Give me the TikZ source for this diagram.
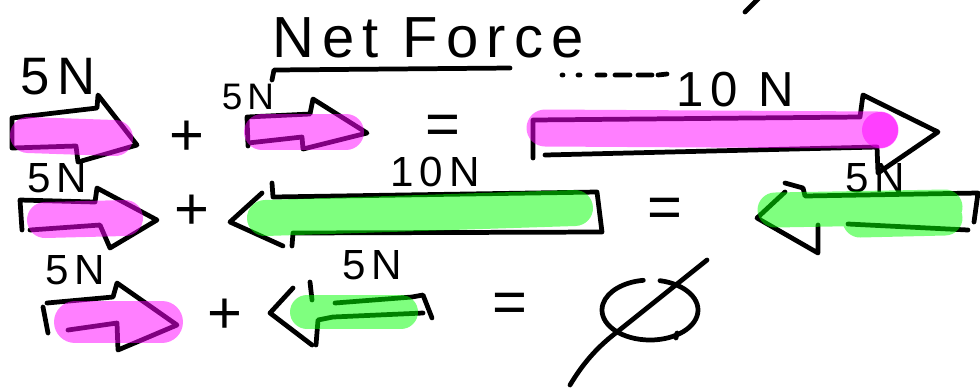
\documentclass[tikz,border=0pt]{standalone}
\usepackage{fontspec}
\setmainfont{Liberation Sans}
\newfontfamily\handfont[LetterSpace=14]{Liberation Sans}
\usetikzlibrary{positioning}
\definecolor{hlpink}{RGB}{255,0,255}
\definecolor{hlgreen}{RGB}{0,255,0}

\begin{document}
\begin{tikzpicture}[
  x=0.02cm, y=-0.02cm,
  ink/.style={draw=black, line width=2.7pt, line cap=round, line join=round},
  pinkmark/.style={draw=hlpink, opacity=0.5, line width=0.72cm, line cap=round},
  greenmark/.style={draw=hlgreen, opacity=0.5, line width=0.72cm, line cap=round},
  lbl/.style={inner sep=0pt, font=\handfont\fontsize{24}{24}\selectfont},
  biglbl/.style={lbl, font=\handfont\fontsize{30}{30}\selectfont},
  sign/.style={inner sep=0pt, font=\fontsize{34}{34}\selectfont}
]
\useasboundingbox (0,0) rectangle (980,387);

% title
\node[inner sep=0pt, font=\handfont\fontsize{33}{33}\selectfont] (title) at (428,38) {Net Force};
\draw[ink] (272,80) -- (274,70) -- (510,68);
\draw[ink] (562,75) -- (563,75) (578,75) -- (580,75) (597,75) -- (605,75)
           (615,75) -- (630,75) (638,75) -- (652,75) (658,75) -- (667,74);
\draw[ink] (745,12) -- (762,-5);

% row 1: 5N + 5N = 10N
\node[biglbl] (fa) at (58,77) {5N};
\draw[ink] (12,148) -- (12,118) -- (97,108) -- (98,95) -- (137,145) -- (78,162) -- (76,146) -- (12,148);
\node[sign] (plusa) at (187,138) {+};
\node[lbl, font=\handfont\fontsize{21}{21}\selectfont] (fb) at (248,97) {5N};
\draw[ink] (248,146) -- (247,117) -- (310,114) -- (313,99) -- (367,133) -- (303,149) -- (302,137) -- (248,143);
\node[sign] (eqa) at (443,130) {=};
\node[lbl, font=\handfont\fontsize{28}{28}\selectfont] (fsum) at (735,90) {10 N};
\draw[ink] (533,158) -- (533,120) -- (860,117) -- (863,95) -- (938,132) -- (878,173) -- (877,147) -- (545,155);

% row 2: 5N + 10N = 5N
\node[lbl] (fc) at (57,178) {5N};
\draw[ink] (22,230) -- (20,200) -- (95,202) -- (97,188) -- (157,220) -- (110,248) -- (100,225) -- (30,230);
\node[sign] (plusb) at (192,212) {+};
\node[lbl] (fd) at (435,172) {10N};
\draw[ink] (262,193) -- (230,222) -- (283,246);
\draw[ink] (272,183) -- (273,197) -- (597,192) -- (602,232) -- (293,233) -- (292,246);
\node[sign] (eqb) at (665,213) {=};
\node[lbl] (fdiff) at (875,178) {5N};
\draw[ink] (785,183) -- (803,188) -- (805,196) -- (978,193) -- (974,222);
\draw[ink] (785,192) -- (757,218) -- (818,253) -- (818,225);
\draw[ink] (848,224) -- (968,230);

% row 3: 5N + 5N = 0
\node[lbl] (fe) at (75,270) {5N};
\draw[ink] (48,333) -- (43,307);
\draw[ink] (47,303) -- (113,297) -- (117,283) -- (177,325) -- (118,350) -- (117,323) -- (68,330);
\node[sign] (plusc) at (225,316) {+};
\node[lbl] (ff) at (372,265) {5N};
\draw[ink] (293,288) -- (270,313) -- (312,345);
\draw[ink] (310,282) -- (312,300);
\draw[ink] (316,345) -- (318,320) -- (333,317) -- (423,313);
\draw[ink] (335,303) -- (412,297) -- (423,295) -- (432,318);
\node[sign] (eqc) at (510,308) {=};
\draw[ink] (650,310) ++(-78:48 and 30) arc[start angle=-78, end angle=262, x radius=48, y radius=30];
\draw[ink] (677,333) -- (676,338);
\draw[ink] (570,385) .. controls (585,360) and (600,345) .. (617,332) -- (707,260);

% highlighter
\draw[pinkmark] (28,135) -- (115,138);
\draw[pinkmark] (262,132) -- (346,132);
\draw[pinkmark, line width=0.74cm] (545,128) -- (880,130);
\fill[hlpink, opacity=0.5] (880,130) circle (0.36cm);
\draw[pinkmark] (45,220) -- (125,218);
\draw[pinkmark, line width=0.84cm] (75,322) -- (162,322);
\draw[greenmark] (265,218) -- (575,208);
\draw[greenmark, line width=0.7cm] (775,210) -- (945,207) (860,220) -- (945,218);
\draw[greenmark, line width=0.68cm] (307,312) -- (401,312);
\end{tikzpicture}
\end{document}
